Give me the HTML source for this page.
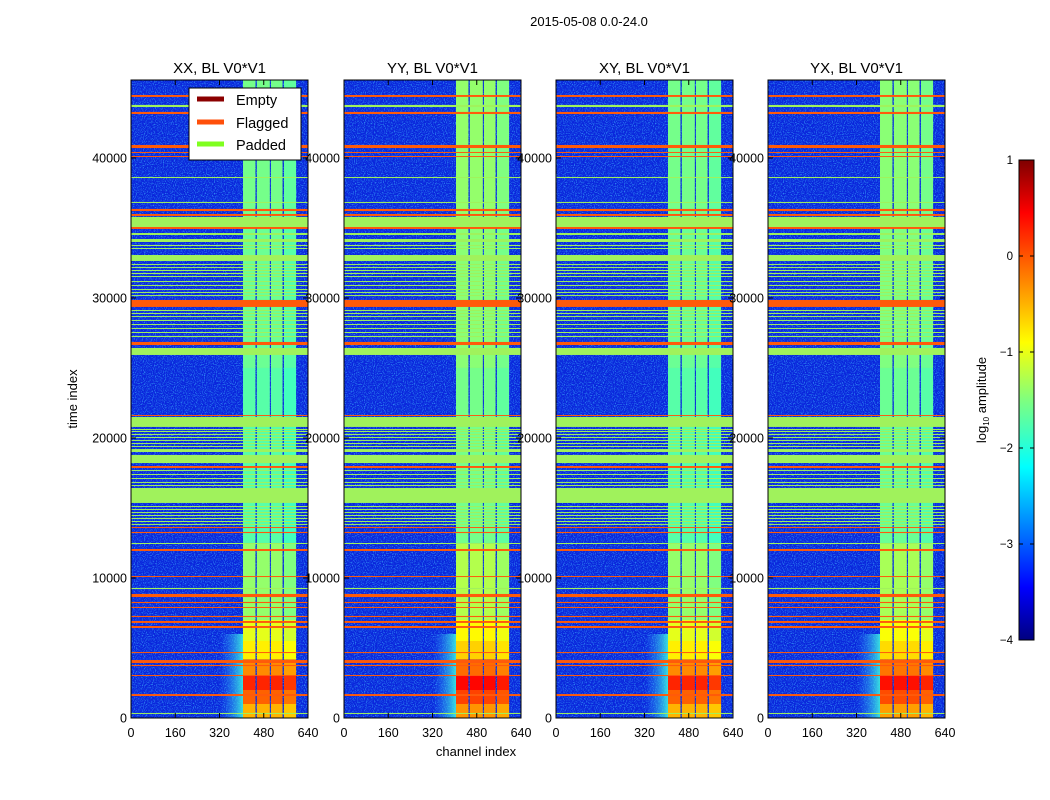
<!DOCTYPE html>
<html><head><meta charset="utf-8"><style>
body{margin:0;background:#fff;}
svg{display:block;font-family:"Liberation Sans",sans-serif;}
</style></head><body>
<svg id="fig" width="1050" height="800">
<defs>
<filter id="noise" x="0" y="0" width="100%" height="100%">
<feTurbulence type="fractalNoise" baseFrequency="0.9" numOctaves="1" seed="3"/>
<feColorMatrix type="matrix" values="0 0 0 0 0.05  0 0 0 0 0.5  0 0 0 0 1  2.4 0 0 0 -1.15"/>
</filter>
<linearGradient id="jet" x1="0" y1="1" x2="0" y2="0">
<stop offset="0" stop-color="#00007f"/><stop offset="0.11" stop-color="#0000ff"/>
<stop offset="0.36" stop-color="#00ffff"/><stop offset="0.5" stop-color="#7fff7f"/>
<stop offset="0.62" stop-color="#ffff00"/><stop offset="0.89" stop-color="#ff0000"/>
<stop offset="1" stop-color="#7f0000"/></linearGradient>
<linearGradient id="glow" x1="0" y1="0" x2="1" y2="0">
<stop offset="0" stop-color="#2a8cff" stop-opacity="0"/><stop offset="1" stop-color="#3cf0e0" stop-opacity="0.9"/></linearGradient>
</defs>
<text x="589" y="26" font-size="13" text-anchor="middle">2015-05-08 0.0-24.0</text>
</svg>
<script>
const panelNames = ["XX, BL V0*V1","YY, BL V0*V1","XY, BL V0*V1","YX, BL V0*V1"];
const panelOffset = [0, 0.15, 0, 0.1];
const xTicks = [0,160,320,480,640];
const yTicks = [0,10000,20000,30000,40000];
const bandChannels = [[405,450],[455,502],[506,548],[553,597]];
const bandTimes = [0,1000,2000,3000,4200,5500,7000,12500,25000,36000,45570];
const bandLevels = [-0.5,-0.1,0.2,-0.3,-0.8,-1.0,-1.4,-1.7,-1.6,-1.55];
const flagged = [[44360,44500],[43140,43290],[40710,40930],[40360,40430],[40070,40140],[36210,36360],[35860,36000],[34930,35070],[29360,29860],[26640,26860],[21570,21640],[17860,18000],[13570,13640],[13210,13290],[11930,12070],[10070,10140],[8640,8860],[8210,8290],[7860,7930],[7210,7290],[6790,6930],[6430,6570],[4640,4710],[3930,4140],[3710,3790],[3000,3070],[1570,1710]];
const padded = [[43640,43790],[38570,38640],[36790,36860],[35070,35790],[34500,34640],[34000,34210],[33710,33790],[33500,33570],[32640,33070],[32360,32430],[32140,32210],[31930,32000],[31710,31790],[31500,31570],[31140,31210],[30860,30930],[30570,30640],[30360,30430],[30140,30210],[29070,29140],[28860,28930],[28640,28710],[28360,28430],[28070,28140],[27790,27860],[27500,27570],[27210,27290],[25930,26430],[20790,21500],[20570,20640],[20430,20500],[20210,20290],[20000,20070],[19790,19860],[19570,19640],[19360,19430],[19000,19210],[18210,18790],[17640,17710],[17360,17430],[17070,17140],[16790,16860],[16570,16640],[15360,16430],[15070,15140],[14860,14930],[14640,14710],[14430,14500],[14210,14290],[14000,14070],[13790,13860],[12430,12500],[9210,9290],[290,360]];
const cbTicks = [1,0,-1,-2,-3,-4];

const NS="http://www.w3.org/2000/svg";
const svg=document.getElementById('fig');
function el(tag,attrs,parent){const e=document.createElementNS(NS,tag);for(const k in attrs)e.setAttribute(k,attrs[k]);(parent||svg).appendChild(e);return e;}
function jet(v){const f=Math.max(0,Math.min(1,(v+4)/5));const c=x=>Math.round(255*Math.max(0,Math.min(1,1.5-Math.abs(4*f-x))));return `rgb(${c(3)},${c(2)},${c(1)})`;}
const px0=[131,344,556,768], pw=177, plotTop=80, plotBot=718, tMax=45570;
const ys=tv=>plotBot-(tv/tMax)*(plotBot-plotTop);

panelNames.forEach((name,p)=>{
  const x0=px0[p]; const xs=c=>x0+c/640*pw;
  const g=el('g',{});
  
  
  const bg=el('rect',{x:x0,y:plotTop,width:pw,height:plotBot-plotTop,fill:'#0a26dc'},g);
  
  
  el('rect',{x:x0,y:plotTop,width:pw,height:plotBot-plotTop,filter:'url(#noise)'},g);
  const glow=el('rect',{x:xs(320),y:ys(6000),width:xs(405)-xs(320),height:ys(0)-ys(6000),fill:'url(#glow)'},g);
  
  
  bandChannels.forEach((ch,b)=>{
    bandLevels.forEach((lv,s)=>{
      const r=el('rect',{x:xs(ch[0]),y:ys(bandTimes[s+1]),width:xs(ch[1])-xs(ch[0]),height:ys(bandTimes[s])-ys(bandTimes[s+1]),fill:jet(lv+panelOffset[p]+(b===3?-0.1:0))},g);
      
      
    });
  });
  padded.forEach(r=>{
    const e=el('rect',{x:x0,y:ys(r[1]),width:pw,height:Math.max(1,ys(r[0])-ys(r[1])),fill:'#a0f25c'},g);
    
    
  });
  flagged.forEach(r=>{
    const e=el('rect',{x:x0,y:ys(r[1]),width:pw,height:Math.max(1,ys(r[0])-ys(r[1])),fill:'#ff5a0a'},g);
    
    
  });
  el('rect',{x:x0,y:plotTop,width:pw,height:plotBot-plotTop,fill:'none',stroke:'#000','stroke-width':1},g);
  const tt=el('text',{x:x0+pw/2,y:73,'font-size':15,'text-anchor':'middle'},g);tt.textContent=name;
  
  
  xTicks.forEach(v=>{
    el('line',{x1:xs(v),x2:xs(v),y1:plotBot,y2:plotBot-5,stroke:'#000'},g);
    el('line',{x1:xs(v),x2:xs(v),y1:plotTop,y2:plotTop+5,stroke:'#000'},g);
    const t=el('text',{x:xs(v),y:737,'font-size':12.5,'text-anchor':'middle'},g);t.textContent=v;
    
    
  });
  yTicks.forEach(v=>{
    el('line',{x1:x0,x2:x0+5,y1:ys(v),y2:ys(v),stroke:'#000'},g);
    el('line',{x1:x0+pw,x2:x0+pw-5,y1:ys(v),y2:ys(v),stroke:'#000'},g);
    const t=el('text',{x:x0-4,y:ys(v)+4.5,'font-size':12.5,'text-anchor':'end'},g);t.textContent=v;
    
    
  });
});
let lab=el('text',{x:476,y:756,'font-size':13,'text-anchor':'middle'});lab.textContent='channel index';


lab=el('text',{x:77,y:399,'font-size':13,'text-anchor':'middle',transform:'rotate(-90 77 399)'});lab.textContent='time index';


const lg=el('g',{});


el('rect',{x:189,y:88,width:112,height:72,fill:'#fff',stroke:'#000'},lg);
[['Empty','#8b0000',100],['Flagged','#ff4f0a',123],['Padded','#7fff1f',145]].forEach(d=>{
  el('line',{x1:197,x2:224,y1:d[2]-1,y2:d[2]-1,stroke:d[1],'stroke-width':5},lg);
  const e=el('text',{x:236,y:d[2]+5,'font-size':14.5},lg);e.textContent=d[0];
  
  
});
const cb=el('g',{});


el('rect',{x:1019,y:160,width:15,height:480,fill:'url(#jet)',stroke:'#000'},cb);
cbTicks.forEach(v=>{
  const yy=160+(1-v)/5*480;
  el('line',{x1:1019,x2:1023,y1:yy,y2:yy,stroke:'#000'},cb);
  el('line',{x1:1030,x2:1034,y1:yy,y2:yy,stroke:'#000'},cb);
  const e=el('text',{x:1013,y:yy+4,'font-size':11.5,'text-anchor':'end'},cb);e.textContent=(v<0?'\u2212'+(-v):v);
  
  
});
lab=el('text',{x:986,y:400,'font-size':13,'text-anchor':'middle',transform:'rotate(-90 986 400)'});
lab.innerHTML='log<tspan font-size="8" dy="3">10</tspan><tspan dy="-3"> amplitude</tspan>';


</script>
</body></html>
